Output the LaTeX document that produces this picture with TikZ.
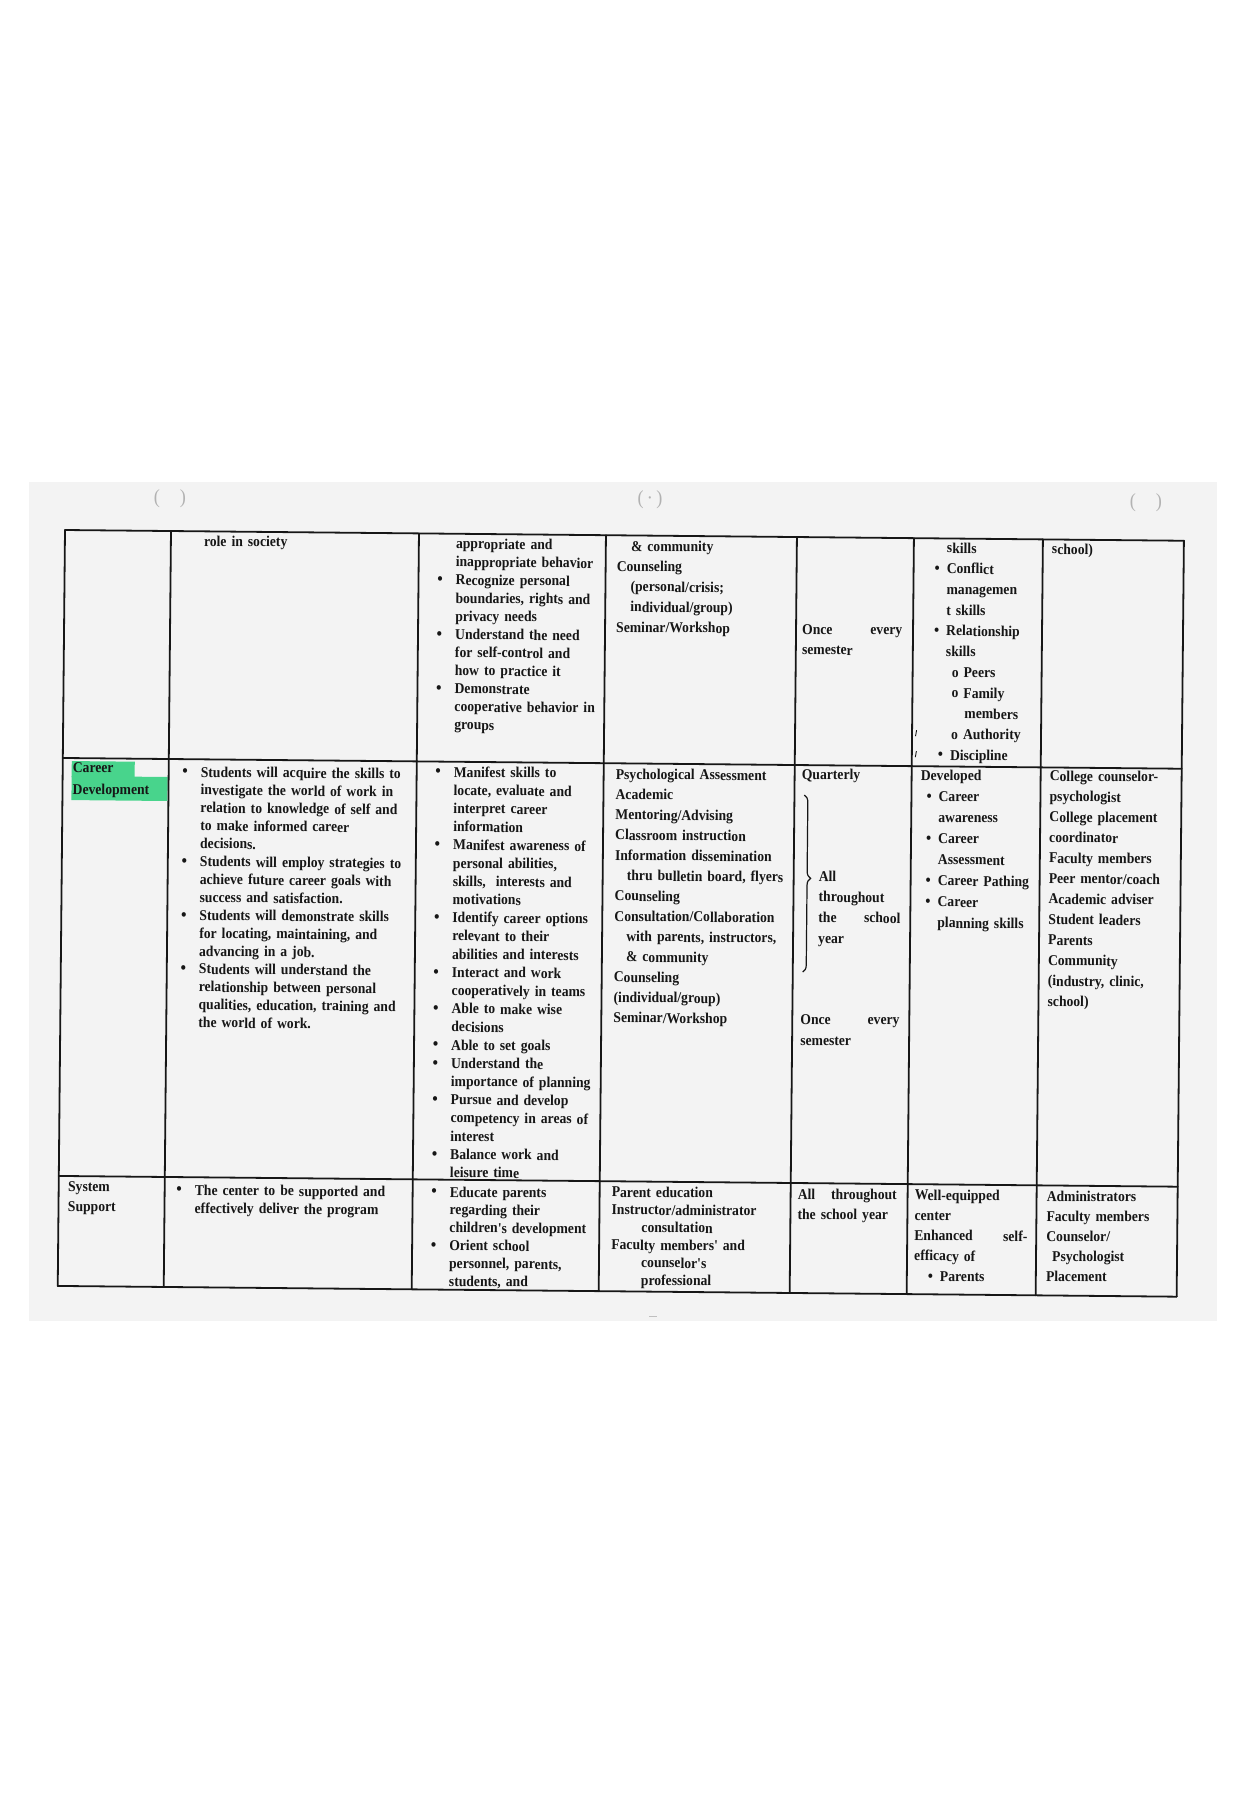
\documentclass[tikz,border=0pt]{standalone}
\usepackage{fontspec}
\newfontfamily\scanfont{Liberation Serif}[FakeStretch=0.91]
\usetikzlibrary{decorations.pathreplacing}
\definecolor{ink}{RGB}{22,22,22}
\definecolor{hilite}{RGB}{72,212,140}
\definecolor{page}{RGB}{243,243,243}
\newcommand\bul{\leavevmode\llap{{\fontsize{17}{17}\selectfont\textbullet}\hskip13pt}}
\newcommand\cb{\leavevmode\llap{{\fontsize{16}{16}\selectfont\textbullet}\hskip7pt}}

\begin{document}
\begin{tikzpicture}[x=1pt, y=-1pt,
  tb/.style={anchor=base west, inner sep=0pt, align=left, text=ink, text width=#1},
  tb/.default=240pt,
  sk/.style={font=\scanfont\bfseries\fontsize{15}{#1}\selectfont},
  rule/.style={draw=ink, line width=1.8pt, line cap=round},
  speck/.style={text=black!30, font=\scanfont\fontsize{20}{20}\selectfont, inner sep=0pt}]
  \fill[white] (0,0) rectangle (1246,1800);
  \useasboundingbox (0,0) rectangle (1246,1800);
  \fill[page] (29,482) rectangle (1217,1321);
  \node[speck] (s1) at (170,499) {(\quad)};
  \node[speck] (s2) at (650,500) {(\,\textperiodcentered\,)};
  \node[speck] (s3) at (1146,503) {(\quad)};
  \draw[black!25, line width=1pt] (649,1316) -- (657,1316);

  \begin{scope}[shift={(65,530)}, rotate=-0.55, transform shape]
  \fill[hilite] (9,231) rectangle (72,247);
  \fill[hilite] (9,246) rectangle (105,270);
  \foreach \c in {0,106,354,541,732,849,978,1119}
    \draw[rule] (\c,0) -- (\c,756);
  \foreach \r in {0,228,646,756}
    \draw[rule] (0,\r) -- (1119,\r);

  \node[tb, sk=18.1] (t-1-2) at (139,14.7) {role in society};
  \node[tb, sk=18.1] (t-1-3) at (391,15) {appropriate and\\
    inappropriate behavior\\
    \bul Recognize personal\\
    boundaries, rights and\\
    privacy needs\\
    \bul Understand the need\\
    for self-control and\\
    how to practice it\\
    \bul Demonstrate\\
    cooperative behavior in\\
    groups};
  \node[tb, sk=20.3] (t-1-4) at (552,15.6) {\hspace*{14pt}\& community\\
    Counseling\\
    \hspace*{14pt}(personal/crisis;\\
    \hspace*{14pt}individual/group)\\
    Seminar/Workshop};
  \node[tb=100pt, sk=20.5] (t-1-5) at (738,97) {Once\hfill every\\semester};
  \node[tb, sk=20.7] (t-1-6) at (882,14.5) {skills\\
    \cb Conflict\\
    managemen\\
    t skills\\
    \cb Relationship\\
    skills\\
    \hspace*{6pt}o\hspace{5pt}Peers\\
    \hspace*{6pt}o\hspace{5pt}Family\\
    \hspace*{19pt}members\\
    \hspace*{6pt}o\hspace{5pt}Authority\\
    \hspace*{5pt}\cb Discipline};
  \draw[ink, line width=0.9pt] (853.5,192) -- (852.5,198);
  \draw[ink, line width=0.9pt] (853.5,213) -- (852.5,219);
  \node[tb, sk=18.1] (t-1-7) at (987,14.5) {school)};

  \node[tb, sk=22] (t-2-1) at (10,242) {Career\\Development};
  \node[tb, sk=17.9] (t-2-2) at (138,245.7) {\bul Students will acquire the skills to\\
    investigate the world of work in\\
    relation to knowledge of self and\\
    to make informed career\\
    decisions.\\
    \bul Students will employ strategies to\\
    achieve future career goals with\\
    success and satisfaction.\\
    \bul Students will demonstrate skills\\
    for locating, maintaining, and\\
    advancing in a job.\\
    \bul Students will understand the\\
    relationship between personal\\
    qualities, education, training and\\
    the world of work.};
  \node[tb, sk=18.2] (t-2-3) at (391,243.3) {\bul Manifest skills to\\
    locate, evaluate and\\
    interpret career\\
    information\\
    \bul Manifest awareness of\\
    personal abilities,\\
    skills,\ \ interests and\\
    motivations\\
    \bul Identify career options\\
    relevant to their\\
    abilities and interests\\
    \bul Interact and work\\
    cooperatively in teams\\
    \bul Able to make wise\\
    decisions\\
    \bul Able to set goals\\
    \bul Understand the\\
    importance of planning\\
    \bul Pursue and develop\\
    competency in areas of\\
    interest\\
    \bul Balance work and\\
    leisure time};
  \node[tb, sk=20.3] (t-2-4) at (553,243.7) {Psychological Assessment\\
    Academic\\
    Mentoring/Advising\\
    Classroom instruction\\
    Information dissemination\\
    \hspace*{12pt}thru bulletin board, flyers\\
    Counseling\\
    Consultation/Collaboration\\
    \hspace*{12pt}with parents, instructors,\\
    \hspace*{12pt}\& community\\
    Counseling\\
    (individual/group)\\
    Seminar/Workshop};
  \node[tb, sk=18.1] (t-2-5) at (739,242) {Quarterly};
  \coordinate (bt) at (742,258);
  \coordinate (bb) at (742,435);
  \draw[ink, line width=1.2pt, decorate, decoration={brace, amplitude=7pt, aspect=0.47}] (bt) -- (bb);
  \node[tb=82pt, sk=20.6] (t-2-5b) at (757,344) {All\\
    throughout\\
    the\hfill school\\
    year};
  \node[tb=99pt, sk=21] (t-2-5c) at (740,487) {Once\hfill every\\semester};
  \node[tb, sk=21.1] (t-2-6) at (858,241.8) {Developed\\
    \hspace*{18pt}\cb Career\\
    \hspace*{18pt}awareness\\
    \hspace*{18pt}\cb Career\\
    \hspace*{18pt}Assessment\\
    \hspace*{18pt}\cb Career Pathing\\
    \hspace*{18pt}\cb Career\\
    \hspace*{18pt}planning skills};
  \node[tb, sk=20.5] (t-2-7) at (987,241.5) {College counselor-\\
    psychologist\\
    College placement\\
    coordinator\\
    Faculty members\\
    Peer mentor/coach\\
    Academic adviser\\
    Student leaders\\
    Parents\\
    Community\\
    (industry, clinic,\\
    school)};

  \node[tb, sk=20] (t-3-1) at (9.3,661) {System\\Support};
  \node[tb, sk=18] (t-3-2) at (136,663.8) {\bul The center to be supported and\\
    effectively deliver the program};
  \node[tb, sk=17.8] (t-3-3) at (391,663.3) {\bul Educate parents\\
    regarding their\\
    children's development\\
    \bul Orient school\\
    personnel, parents,\\
    students, and};
  \node[tb, sk=17.6] (t-3-4) at (553,661.7) {Parent education\\
    Instructor/administrator\\
    \hspace*{30pt}consultation\\
    Faculty members' and\\
    \hspace*{30pt}counselor's\\
    \hspace*{30pt}professional};
  \node[tb=99pt, sk=20] (t-3-5) at (739,662) {All\hfill throughout\\the school year};
  \node[tb=113pt, sk=20.25] (t-3-6) at (856,661.8) {Well-equipped\\
    center\\
    Enhanced\hfill self-\\
    efficacy of\\
    \hspace*{26pt}\cb Parents};
  \node[tb, sk=20] (t-3-7) at (988,661.6) {Administrators\\
    Faculty members\\
    Counselor/\\
    \hspace*{6pt}Psychologist\\
    Placement};
  \end{scope}
\end{tikzpicture}
\end{document}
